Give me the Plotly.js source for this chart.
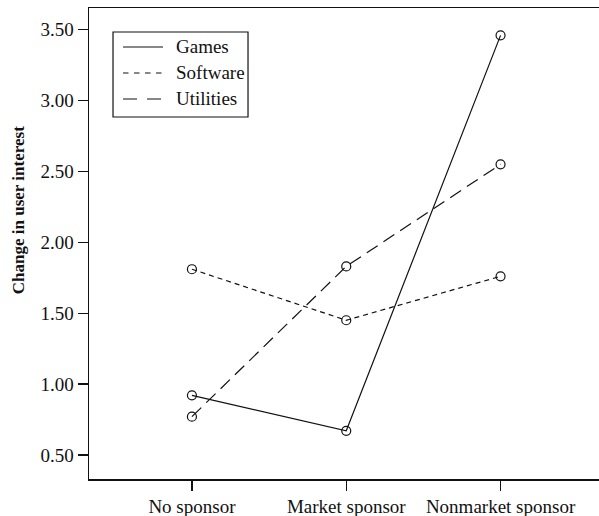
<!DOCTYPE html>
<html><head><meta charset="utf-8">
<script src="https://cdn.plot.ly/plotly-3.0.1.min.js"></script>
<style>html,body{margin:0;padding:0;background:#fff}</style>
</head><body>
<div id="chart" style="width:599px;height:516px"></div>
<script>
const categories = ["No sponsor", "Market sponsor", "Nonmarket sponsor"];
const seriesNames = ["Games", "Software", "Utilities"];
const games = [0.92, 0.67, 3.46];
const software = [1.81, 1.45, 1.76];
const utilities = [0.77, 1.83, 2.55];
const yTicks = [0.5, 1.0, 1.5, 2.0, 2.5, 3.0, 3.5];
const yTickText = ["0.50", "1.00", "1.50", "2.00", "2.50", "3.00", "3.50"];
const yTitle = "Change in user interest";

const serif = "Liberation Serif, Times New Roman, serif";
const ink = "#111";
const dashes = ["solid", "5px,4px", "13px,7px"];
const legendDashes = ["solid", "5.5px,5.5px", "14px,10px"];
const seriesValues = [games, software, utilities];

const data = seriesValues.map((vals, i) => ({
  x: categories, y: vals, name: seriesNames[i], type: "scatter", mode: "lines+markers",
  showlegend: false,
  line: {color: ink, width: 1.2, dash: dashes[i]},
  marker: {symbol: "circle-open", size: 9, color: ink, line: {width: 1.2, color: ink}}
}));

// Legend (drawn as a boxed key in paper coordinates)
const legendBox = {x0: 0.0471, x1: 0.3118, y0: 0.7686, y1: 0.9490};
const legendRowY = [0.9172, 0.8620, 0.8068];
const legendLineX = [0.0667, 0.1451];
const legendTextX = 0.1676;

const shapes = [{
  type: "rect", xref: "paper", yref: "paper",
  x0: legendBox.x0, x1: legendBox.x1, y0: legendBox.y0, y1: legendBox.y1,
  line: {color: ink, width: 1.2}, fillcolor: "rgba(0,0,0,0)"
}];
const annotations = [{
  text: "<b>" + yTitle + "</b>", xref: "paper", yref: "paper",
  x: -0.139, y: 0.571, xanchor: "center", yanchor: "middle",
  textangle: -90, showarrow: false,
  font: {family: serif, size: 17, color: ink}
}];
seriesNames.forEach((nm, i) => {
  shapes.push({
    type: "line", xref: "paper", yref: "paper",
    x0: legendLineX[0], x1: legendLineX[1], y0: legendRowY[i], y1: legendRowY[i],
    line: {color: ink, width: 1.2, dash: legendDashes[i]}
  });
  annotations.push({
    text: nm, xref: "paper", yref: "paper", x: legendTextX, y: legendRowY[i],
    xanchor: "left", yanchor: "middle", showarrow: false,
    font: {family: serif, size: 19, color: ink}
  });
});

const layout = {
  width: 599, height: 516,
  margin: {l: 89, r: 0, t: 8, b: 37},
  paper_bgcolor: "#fff", plot_bgcolor: "#fff",
  font: {family: serif, size: 19, color: ink},
  showlegend: false,
  xaxis: {type: "category", range: [-0.667, 2.638], showgrid: false, zeroline: false,
    showline: true, linecolor: ink, linewidth: 1.5, mirror: true,
    ticks: "outside", ticklen: 10, tickwidth: 1.2, tickcolor: ink,
    tickfont: {family: serif, size: 19, color: ink}},
  yaxis: {range: [0.33, 3.653], tickvals: yTicks, ticktext: yTickText,
    showgrid: false, zeroline: false,
    showline: true, linecolor: ink, linewidth: 1.5,
    ticks: "outside", ticklen: 10, tickwidth: 1.2, tickcolor: ink,
    tickfont: {family: serif, size: 19, color: ink}},
  shapes: shapes,
  annotations: annotations
};
Plotly.newPlot("chart", data, layout, {displayModeBar: false, staticPlot: true});
</script>
</body></html>
